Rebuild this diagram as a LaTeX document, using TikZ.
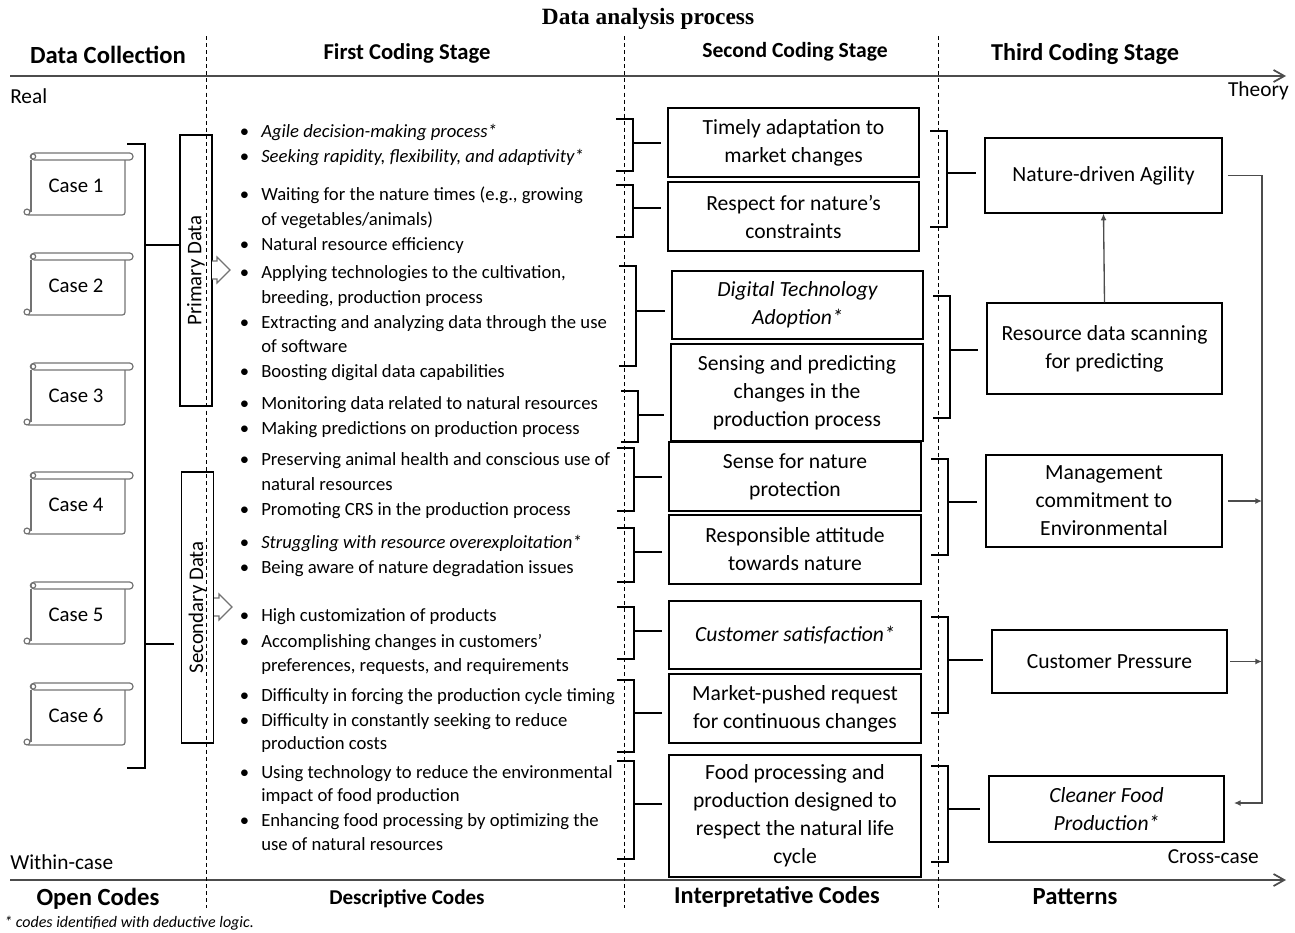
\documentclass[tikz,border=0pt]{standalone}
\usepackage{fontspec}
\setmainfont{Carlito}
\newfontfamily\titlefont{Liberation Serif}
\usetikzlibrary{positioning,arrows.meta}

\definecolor{lineGray}{rgb}{0.3,0.3,0.3}
\definecolor{scrollGray}{rgb}{0.45,0.45,0.45}

\newcommand\descfont{\fontsize{14}{17}\selectfont}
\newcommand\codefont{\fontsize{16.2}{21}\selectfont}
\newcommand\headfont{\bfseries\fontsize{17}{21}\selectfont}
\newcommand\bul{\llap{\textbullet\hspace{9pt}}}

% scroll for one case: name, top y, label
\newcommand\casescroll[3]{%
  \draw[scroll, rounded corners=2.5pt] (31,#2) rectangle (133,#2+7);
  \draw[scroll] (33,#2+3.5) circle[radius=2pt];
  \draw[scroll] (31,#2+7) -- (31,#2+59);
  \draw[scroll, rounded corners=2pt] (28,#2+62) -- (125,#2+62) -- (125,#2+7);
  \draw[scroll] (27,#2+59) circle[radius=2.2pt];
  \node[casetxt] (#1) at (76,#2+33) {#3};
}

% bracket: name, vertical x, top y, bottom y, stem y
\newcommand\codebracket[5]{%
  \draw[brace] (#2-17,#3) -- (#2,#3) -- (#2,#4) -- (#2-17,#4);
  \coordinate (#1) at (#2,#5);
}

\begin{document}
\begin{tikzpicture}[x=0.75pt,y=-0.75pt,
    brace/.style={line width=2.2pt},
    scroll/.style={draw=scrollGray, line width=0.9pt},
    casetxt/.style={font=\fontsize{15.6}{18}\selectfont},
    desc/.style={anchor=base west, inner sep=0pt, font=\descfont},
    codebox/.style 2 args={draw, line width=0.9pt, align=center, font=\codefont,
      inner sep=0pt, minimum width=#1*0.75pt, minimum height=#2*0.75pt},
    databox/.style={draw, line width=0.8pt, inner sep=0pt,
      minimum width=32*0.75pt, minimum height=271*0.75pt},
    head/.style={font=\headfont},
    side/.style={font=\fontsize{16}{19}\selectfont, inner sep=0pt},
    stageline/.style={line width=0.6pt, dash pattern=on 3pt off 2.3pt},
    axis/.style={draw=lineGray, line width=1.3pt, -{Straight Barb[length=8pt,width=9pt]}},
    flow/.style={draw=lineGray, line width=1pt},
    tip/.style={-{Latex[length=5pt,width=4.5pt]}}]
  \useasboundingbox (0,0) rectangle (1295,932);

  % title and stage headers
  \node[font=\titlefont\bfseries\fontsize{17.5}{20}\selectfont] (title) at (648,19) {Data analysis process};
  \node[head, font=\bfseries\fontsize{18.5}{21}\selectfont] (hcoll) at (108,55) {Data Collection};
  \node[head] (hfirst) at (407,53) {First Coding Stage};
  \node[head, font=\bfseries\fontsize{16.2}{21}\selectfont] (hsecond) at (795,52) {Second Coding Stage};
  \node[head, font=\bfseries\fontsize{18.2}{21}\selectfont] (hthird) at (1085,54) {Third Coding Stage};
  \node[head, font=\bfseries\fontsize{18.5}{21}\selectfont] (fopen) at (98,899) {Open Codes};
  \node[head, font=\bfseries\fontsize{15.8}{21}\selectfont] (fdesc) at (407,899) {Descriptive Codes};
  \node[head, font=\bfseries\fontsize{18.2}{21}\selectfont] (finter) at (777,897) {Interpretative Codes};
  \node[head, font=\bfseries\fontsize{18.5}{21}\selectfont] (fpat) at (1075,897) {Patterns};

  % axes and column separators
  \draw[axis] (10,76) -- (1286,76);
  \draw[axis] (10,880) -- (1286,880);
  \foreach \x in {206,624,938}
    \draw[stageline] (\x,36) -- (\x,908);
  \node[side, anchor=west] (real) at (10,96) {Real};
  \node[side, anchor=east] (theory) at (1289,91) {Theory};
  \node[side, anchor=west] (within) at (10,862) {Within-case};
  \node[side, anchor=east] (cross) at (1259,857) {Cross-case};
  \node[anchor=west, inner sep=0pt, font=\itshape\fontsize{12}{14}\selectfont] (note) at (4,923) {* codes identified with deductive logic.};

  % cases
  \casescroll{case1}{153}{Case 1}
  \casescroll{case2}{253}{Case 2}
  \casescroll{case3}{363}{Case 3}
  \casescroll{case4}{472}{Case 4}
  \casescroll{case5}{582}{Case 5}
  \casescroll{case6}{683}{Case 6}

  % data sources
  \draw[brace] (127,144) -- (145,144) -- (145,768) -- (127,768);
  \node[databox] (primary) at (196,270.5) {};
  \node[databox] (secondary) at (197.5,607.5) {};
  \node[rotate=90, font=\fontsize{15.6}{18}\selectfont] at (primary) {Primary Data};
  \node[rotate=90, font=\fontsize{15.6}{18}\selectfont] at (secondary) {Secondary Data};
  \draw[brace] (145,245) -- (primary.west |- 145,245);
  \draw[brace] (145,644) -- ([xshift=-5pt]secondary.west |- 145,644);
  \draw[scroll, fill=white] (212,261) -- (217,261) -- (217,257) -- (230,270)
    -- (217,283) -- (217,279) -- (212,279);
  \draw[scroll, fill=white] (214,598) -- (219,598) -- (219,594) -- (232,607)
    -- (219,620) -- (219,616) -- (214,616);

  % descriptive codes
  \foreach \y/\t in {137/{\bul\textit{Agile decision-making process*}},
      162/{\bul\textit{Seeking rapidity, flexibility, and adaptivity*}},
      200/{\bul Waiting for the nature times (e.g., growing},
      225/{of vegetables/animals)},
      250/{\bul Natural resource efficiency},
      278/{\bul Applying technologies to the cultivation,},
      303/{breeding, production process},
      328/{\bul Extracting and analyzing data through the use},
      352/{of software},
      377/{\bul Boosting digital data capabilities},
      409/{\bul Monitoring data related to natural resources},
      434/{\bul Making predictions on production process},
      465/{\bul Preserving animal health and conscious use of},
      490/{natural resources},
      515/{\bul Promoting CRS in the production process},
      548/{\bul\textit{Struggling with resource overexploitation*}},
      573/{\bul Being aware of nature degradation issues},
      621/{\bul High customization of products},
      647/{\bul Accomplishing changes in customers’},
      671/{preferences, requests, and requirements},
      701/{\bul Difficulty in forcing the production cycle timing},
      726/{\bul Difficulty in constantly seeking to reduce},
      749/{production costs},
      778/{\bul Using technology to reduce the environmental},
      801/{impact of food production},
      826/{\bul Enhancing food processing by optimizing the},
      850/{use of natural resources}}
    \node[desc] (d\y) at (261,\y) {\t};

  % interpretative codes
  \node[codebox={251}{69}] (adapt) at (793.5,142.5) {Timely adaptation to\\market changes};
  \node[codebox={251}{69}] (respect) at (793.5,216.5) {Respect for nature's\\constraints};
  \node[codebox={251}{68}, font=\codefont\itshape] (digital) at (797.5,305) {Digital Technology\\Adoption*};
  \node[codebox={252}{97}] (sensing) at (797,392.5) {Sensing and predicting\\changes in the\\production process};
  \node[codebox={252}{69}] (protect) at (795,476.5) {Sense for nature\\protection};
  \node[codebox={252}{69}] (attitude) at (795,549.5) {Responsible attitude\\towards nature};
  \node[codebox={252}{68}, font=\codefont\itshape] (satisf) at (795,635) {Customer satisfaction*};
  \node[codebox={252}{69}] (market) at (795,708.5) {Market-pushed request\\for continuous changes};
  \node[codebox={252}{122}] (lifecycle) at (795,816) {Food processing and\\production designed to\\respect the natural life\\cycle};

  \codebracket{k1}{633}{119}{171}{143}
  \codebracket{k2}{633}{185}{237}{208}
  \codebracket{k3}{636}{266}{366}{311}
  \codebracket{k4}{638}{391}{442}{415}
  \codebracket{k5}{634}{448}{511}{477}
  \codebracket{k6}{634}{528}{582}{552}
  \codebracket{k7}{634}{607}{659}{631}
  \codebracket{k8}{634}{680}{752}{713}
  \codebracket{k9}{634}{761}{859}{804}
  \foreach \k/\b in {k1/adapt,k2/respect,k3/digital,k4/sensing,k5/protect,
      k6/attitude,k7/satisf,k8/market,k9/lifecycle}
    \draw[brace, shorten >=5pt] (\k) -- (\b.west |- \k);

  % patterns
  \node[codebox={237}{75}] (agility) at (1103.5,175.5) {Nature-driven Agility};
  \node[codebox={235}{91}] (scanning) at (1104.5,348.5) {Resource data scanning\\for predicting};
  \node[codebox={236}{92}] (commit) at (1104,501) {Management\\commitment to\\Environmental};
  \node[codebox={235}{63}] (pressure) at (1109.5,661.5) {Customer Pressure};
  \node[codebox={235}{66}, font=\codefont\itshape] (cleaner) at (1106.5,809) {Cleaner Food\\Production*};

  \codebracket{l1}{947}{131}{227}{173}
  \codebracket{l2}{950}{296}{418}{350}
  \codebracket{l3}{948}{459}{555}{502}
  \codebracket{l4}{948}{617}{713}{660}
  \codebracket{l5}{948}{766}{862}{809}
  \foreach \k/\b in {l1/agility,l2/scanning,l3/commit,l4/pressure,l5/cleaner}
    \draw[brace, shorten >=6pt] (\k) -- (\b.west |- \k);

  % links between patterns
  \coordinate (rail) at (1262,803);
  \draw[flow, tip] (scanning.north) -- (agility.south);
  \draw[flow, tip] ([xshift=4pt]agility.east) -| (rail) -- ([xshift=7pt]cleaner.east |- rail);
  \draw[flow, tip] ([xshift=4pt]commit.east) -- (commit.east -| rail);
  \draw[flow, tip] ([xshift=2pt]pressure.east) -- (pressure.east -| rail);
\end{tikzpicture}
\end{document}
